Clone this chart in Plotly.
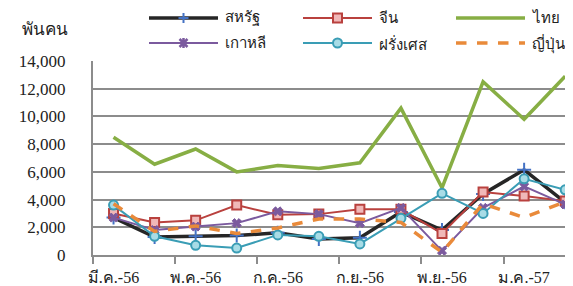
import plotly.graph_objects as go

months = ["มี.ค.-56", "เม.ย.-56", "พ.ค.-56", "มิ.ย.-56", "ก.ค.-56", "ส.ค.-56",
          "ก.ย.-56", "ต.ค.-56", "พ.ย.-56", "ธ.ค.-56", "ม.ค.-57", "ก.พ.-57"]
usa = [2700, 1300, 1350, 1400, 1600, 1150, 1250, 3100, 1800, 4400, 6150, 3800]
china = [3000, 2350, 2500, 3600, 2900, 2950, 3300, 3300, 1550, 4550, 4250, 3900]
thai = [8500, 6550, 7650, 6000, 6450, 6250, 6650, 10600, 4850, 12500, 9800, 12900]
korea = [2700, 1800, 2050, 2300, 3150, 2950, 2300, 3400, 300, 3400, 4950, 3650]
france = [3600, 1350, 700, 500, 1450, 1350, 800, 2650, 4450, 3000, 5500, 4700]
japan = [3700, 1700, 2100, 1550, 1950, 2600, 2600, 2350, 200, 3700, 2700, 3850]
yticks = [0, 2000, 4000, 6000, 8000, 10000, 12000, 14000]

x = list(range(len(months)))
font = "Times New Roman, Liberation Serif, DejaVu Serif, serif"

W, H = 573, 286
ML, MR, MT, MB = 85, 0, 53, 39
PW, PH = W - ML - MR, H - MT - MB

series = [
    dict(name="สหรัฐ", y=usa, line=dict(color="#262626", width=3.5),
         marker=dict(symbol="cross-thin", size=10, line=dict(color="#4472C4", width=2)), mode="lines+markers"),
    dict(name="จีน", y=china, line=dict(color="#B9413E", width=2),
         marker=dict(symbol="square", size=9, color="#F0B8B8", line=dict(color="#B9413E", width=2)), mode="lines+markers"),
    dict(name="ไทย", y=thai, line=dict(color="#87AE44", width=3.5), marker=None, mode="lines"),
    dict(name="เกาหลี", y=korea, line=dict(color="#7B5A9E", width=2),
         marker=dict(symbol="x", size=8, color="#7B5A9E", line=dict(color="#7B5A9E", width=1)), mode="lines+markers"),
    dict(name="ฝรั่งเศส", y=france, line=dict(color="#3A9DB5", width=2),
         marker=dict(symbol="circle", size=9, color="#A8DCE6", line=dict(color="#3A9DB5", width=2)), mode="lines+markers"),
    dict(name="ญี่ปุ่น", y=japan, line=dict(color="#E98A3A", width=3.5, dash="dash"), marker=None, mode="lines"),
]

fig = go.Figure()
for s in series:
    kw = dict(x=x, y=s["y"], name=s["name"], mode=s["mode"], line=s["line"], showlegend=False)
    if s["marker"]:
        kw["marker"] = s["marker"]
    fig.add_trace(go.Scatter(**kw))

# manual legend (3 columns x 2 rows)
def px(v):
    return (v - ML) / PW

def py(v):
    return (H - MB - v) / PH

shapes = []
annotations = []
col_x = [141, 295, 448]
row_y = [10, 35]
for i, s in enumerate(series):
    c, r = i % 3, i // 3
    x0, x1, yy = col_x[c], col_x[c] + 69, row_y[r]
    ln = dict(color=s["line"]["color"], width=s["line"]["width"])
    if "dash" in s["line"]:
        ln["dash"] = "dash"
    shapes.append(dict(type="line", xref="paper", yref="paper", x0=px(x0), x1=px(x1),
                       y0=py(yy), y1=py(yy), line=ln))
    xm = px((x0 + x1) / 2)
    ym = py(yy)
    sym = s["marker"]["symbol"] if s["marker"] else None
    if sym == "square":
        shapes.append(dict(type="rect", xref="paper", yref="paper", xsizemode="pixel", ysizemode="pixel",
                           xanchor=xm, yanchor=ym, x0=-4.5, x1=4.5, y0=-4.5, y1=4.5,
                           fillcolor="#F0B8B8", line=dict(color="#B9413E", width=2)))
    elif sym == "circle":
        shapes.append(dict(type="circle", xref="paper", yref="paper", xsizemode="pixel", ysizemode="pixel",
                           xanchor=xm, yanchor=ym, x0=-4.5, x1=4.5, y0=-4.5, y1=4.5,
                           fillcolor="#A8DCE6", line=dict(color="#3A9DB5", width=2)))
    elif sym == "cross-thin":
        shapes.append(dict(type="path", xref="paper", yref="paper", xsizemode="pixel", ysizemode="pixel",
                           xanchor=xm, yanchor=ym, path="M-5,0 L5,0 M0,-5 L0,5",
                           line=dict(color="#4472C4", width=2)))
    elif sym == "x":
        shapes.append(dict(type="path", xref="paper", yref="paper", xsizemode="pixel", ysizemode="pixel",
                           xanchor=xm, yanchor=ym, path="M-4,-4 L4,4 M-4,4 L4,-4 M0,-5 L0,5",
                           line=dict(color="#7B5A9E", width=2.5)))
    annotations.append(dict(text=s["name"], xref="paper", yref="paper", x=px(x1 + 5), y=py(yy),
                            xanchor="left", yanchor="middle", showarrow=False,
                            font=dict(size=15, color="#222")))

annotations.append(dict(text="พันคน", xref="paper", yref="paper", x=px(12), y=py(22),
                        xanchor="left", yanchor="middle", showarrow=False, font=dict(size=17, color="#222")))

fig.update_layout(
    width=W, height=H,
    margin=dict(l=ML, r=MR, t=MT, b=MB, autoexpand=False),
    plot_bgcolor="white", paper_bgcolor="white",
    font=dict(family=font, size=16, color="#222"),
    showlegend=False,
    shapes=shapes, annotations=annotations,
)
fig.update_xaxes(range=[-0.5, -0.5 + PW / 41.06],
                 tickmode="array", tickvals=x[::2], ticktext=months[::2],
                 showgrid=False, showline=True, linecolor="#8c8c8c", linewidth=2,
                 ticks="", zeroline=False, ticklabelstandoff=7,
                 minor=dict(tickmode="array", tickvals=[i - 0.5 for i in x[::2]],
                            ticks="outside", ticklen=7, tickcolor="#8c8c8c", tickwidth=2),
                 tickfont=dict(size=16, family=font))
fig.update_yaxes(range=[0, 14000], tickmode="array", tickvals=yticks,
                 tickformat=",d", showgrid=True, gridcolor="#8c8c8c", gridwidth=1.5,
                 showline=True, linecolor="#8c8c8c", linewidth=2, zeroline=False,
                 ticks="", ticklabelstandoff=22, tickfont=dict(size=17, family=font))
fig.write_html("out.html")
